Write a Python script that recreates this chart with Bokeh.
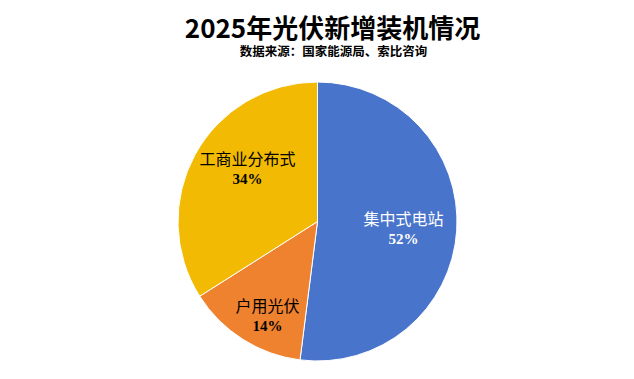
import math
from bokeh.plotting import figure
from bokeh.models import Range1d, ColumnDataSource
from bokeh.core.properties import value
from bokeh.embed import file_html
from bokeh.resources import INLINE

# ---- data ----
categories = ["集中式电站", "户用光伏", "工商业分布式"]
shares = [52, 14, 34]
colors = ["#4874CB", "#EE822F", "#F2BA02"]
label_colors = ["white", "black", "black"]
title_text = "2025年光伏新增装机情况"
subtitle_text = "数据来源：国家能源局、索比咨询"

W, H = 618, 363
p = figure(width=W, height=H, output_backend="svg", toolbar_location=None,
           x_range=Range1d(0, W), y_range=Range1d(0, H), min_border=0)
p.axis.visible = False
p.grid.visible = False
p.outline_line_color = None
p.background_fill_color = "white"
p.border_fill_color = "white"

def px(page_x):
    return page_x

def py(page_y):
    return H - page_y

# pie geometry
cx, cy, r = px(317), py(221), 139.5
total = sum(shares)
starts, ends = [], []
a = math.pi / 2
for s in shares:
    starts.append(a)
    a = a - 2 * math.pi * s / total
    ends.append(a)

src = ColumnDataSource(dict(start=starts, end=ends, color=colors))
p.wedge(x=cx, y=cy, radius=r, start_angle="start", end_angle="end",
        direction="clock", fill_color="color", line_color="white", line_width=1,
        source=src)

# label placement (page coordinates of label centres)
name_pos = [(403, 217), (267, 304), (247, 157)]
pct_pos = [(403, 238), (267, 325), (247, 178)]
for i, cat in enumerate(categories):
    nx, ny = name_pos[i]
    p.text(x=[px(nx)], y=[py(ny)], text=[cat], text_align="center",
           text_baseline="middle", text_font=value("Noto Sans CJK SC"),
           text_font_size="16px", text_color=label_colors[i])
    qx, qy = pct_pos[i]
    p.text(x=[px(qx)], y=[py(qy)], text=[f"{shares[i]}%"], text_align="center",
           text_baseline="middle", text_font=value("Liberation Serif"),
           text_font_style="bold", text_font_size="15px",
           text_color=label_colors[i])

# title and subtitle
p.text(x=[px(332)], y=[py(26)], text=[title_text], text_align="center",
       text_baseline="middle", text_font=value("Noto Sans CJK SC"),
       text_font_size="26px", text_font_style="bold", text_color="black")
p.text(x=[px(333)], y=[py(50)], text=[subtitle_text], text_align="center",
       text_baseline="middle", text_font=value("Noto Sans CJK SC"),
       text_font_size="12.5px", text_font_style="bold", text_color="black")

open("out.html", "w").write(file_html(p, INLINE))
